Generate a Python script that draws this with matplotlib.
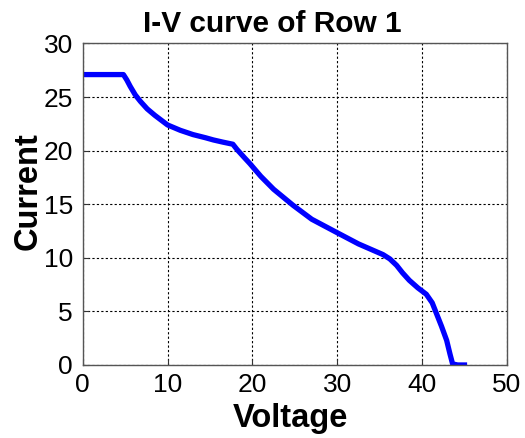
import numpy as np
import matplotlib.pyplot as plt

plt.rcParams['font.family'] = ['Liberation Sans', 'DejaVu Sans']

# I-V sweep of row 1 (voltage in V, current in A)
voltage = [0.0, 2.0, 4.0, 4.8, 5.2, 5.6, 6.2, 6.8, 7.6, 8.5, 10.0, 11.5,
           13.0, 14.5, 15.4, 16.5, 17.7, 18.2, 19.0, 19.7, 21.0, 22.5,
           24.8, 27.0, 30.1, 32.5, 35.4, 36.2, 37.0, 37.7, 38.5, 39.5,
           40.5, 41.2, 41.7, 42.3, 42.9, 43.3, 43.6, 44.2, 45.0]
current = [27.1, 27.1, 27.1, 27.1, 26.6, 26.0, 25.2, 24.6, 23.9, 23.3,
           22.4, 21.9, 21.5, 21.2, 21.0, 20.8, 20.6, 20.1, 19.4, 18.8,
           17.6, 16.4, 14.9, 13.6, 12.3, 11.3, 10.3, 9.9, 9.3, 8.6, 7.9,
           7.2, 6.6, 5.8, 4.8, 3.6, 2.3, 1.0, 0.1, 0.0, 0.0]

fig = plt.figure(figsize=(5.25, 4.38), dpi=100, facecolor='white')
ax = fig.add_axes([0.1575, 0.1667, 0.808, 0.734])

ax.plot(voltage, current, color='#0000ff', lw=3.8, solid_joinstyle='round')

ax.set_xlim(0, 50)
ax.set_ylim(0, 30)
ax.set_xticks(np.arange(0, 51, 10))
ax.set_yticks(np.arange(0, 31, 5))
ax.grid(True, color='black', linestyle=(0, (2, 2)), linewidth=0.8)
ax.tick_params(direction='in', length=4, labelsize=19, colors='#333333',
               labelcolor='black')
ax.tick_params(axis='x', pad=6)
ax.tick_params(axis='y', pad=7)
for sp in ax.spines.values():
    sp.set_color('#555555')
    sp.set_linewidth(1.0)

# labels placed by baseline, in axes coordinates
ax.set_xlabel('Voltage', fontsize=23.5, fontweight='bold', va='baseline')
ax.xaxis.set_label_coords(0.49, -0.192)
ax.set_ylabel('Current', fontsize=23.5, fontweight='bold', va='baseline',
              ha='center', rotation=90, rotation_mode='anchor')
ax.yaxis.set_label_coords(-0.108, 0.541)
ax.set_title('I-V curve of Row 1', fontsize=21.5, fontweight='bold',
             x=0.447, y=1.036, pad=0)

fig.savefig('out.png', dpi=100, facecolor='white')
